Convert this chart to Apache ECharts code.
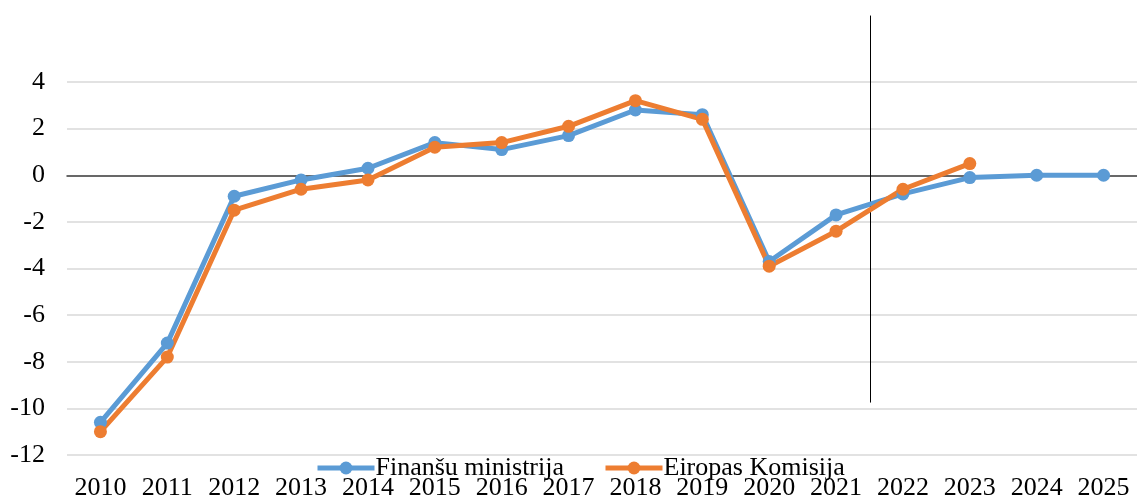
<!DOCTYPE html>
<html>
<head>
<meta charset="utf-8">
<script src="https://cdn.jsdelivr.net/npm/echarts@6/dist/echarts.min.js"></script>
<style>
  html, body { margin: 0; padding: 0; background: #fff; }
  #chart { width: 1137px; height: 501px; }
</style>
</head>
<body>
<div id="chart"></div>
<script>
// gadi
var years = ['2010', '2011', '2012', '2013', '2014', '2015', '2016', '2017',
             '2018', '2019', '2020', '2021', '2022', '2023', '2024', '2025'];
// Finanšu ministrija
var finMin = [-10.6, -7.2, -0.9, -0.2, 0.3, 1.4, 1.1, 1.7,
              2.8, 2.6, -3.7, -1.7, -0.8, -0.1, 0.0, 0.0];
// Eiropas Komisija
var eirKom = [-11.0, -7.8, -1.5, -0.6, -0.2, 1.2, 1.4, 2.1,
              3.2, 2.4, -3.9, -2.4, -0.6, 0.5, null, null];
// y ass
var yMin = -12, yMax = 4, yStep = 2;
// vertikālā atdalītāja līnija starp 2021 un 2022 (y vērtības)
var divFrom = '2021', divTo = '2022';
var divBottom = -9.75, divTop = 6.85;

var font = 'Liberation Serif, Times New Roman, serif';

var chart = echarts.init(document.getElementById('chart'));

var option = {
    animation: false,
    backgroundColor: '#fff',
    grid: {
        left: 67,
        right: 0,
        top: 82,
        bottom: 45
    },
    legend: {
        left: 310,
        top: 450,
        itemWidth: 57,
        itemHeight: 16,
        itemGap: 39,
        lineStyle: {width: 5},
        textStyle: {
            fontFamily: font,
            fontSize: 26,
            color: '#000',
            padding: [0, 0, 0, -4]
        },
        data: ['Finanšu ministrija', 'Eiropas Komisija']
    },
    xAxis: [{
        type: 'category',
        data: years,
        position: 'bottom',
        boundaryGap: true,
        axisLine: {show: false, onZero: false},
        axisTick: {show: false},
        axisLabel: {
            fontFamily: font,
            fontSize: 26,
            color: '#000',
            margin: 20,
            interval: 0
        }
    }, {
        // nulles līnija
        type: 'category',
        data: years,
        position: 'top',
        boundaryGap: true,
        axisLine: {show: true, onZero: true, lineStyle: {color: '#404040', width: 1.5}},
        axisTick: {show: false},
        axisLabel: {show: false}
    }],
    yAxis: {
        type: 'value',
        min: yMin,
        max: yMax,
        interval: yStep,
        axisLine: {show: false},
        axisTick: {show: false},
        axisLabel: {
            fontFamily: font,
            fontSize: 26,
            color: '#000',
            margin: 22
        },
        splitLine: {
            lineStyle: {color: '#d9d9d9', width: 1.5}
        }
    },
    series: [{
        name: 'Finanšu ministrija',
        type: 'line',
        data: finMin,
        symbol: 'circle',
        symbolSize: 13,
        lineStyle: {color: '#5b9bd5', width: 5},
        itemStyle: {color: '#5b9bd5'}
    }, {
        name: 'Eiropas Komisija',
        type: 'line',
        data: eirKom,
        symbol: 'circle',
        symbolSize: 13,
        lineStyle: {color: '#ed7d31', width: 5},
        itemStyle: {color: '#ed7d31'}
    }]
};

chart.setOption(option);

// vertikālā līnija caur asu skalām
var xa = chart.convertToPixel({xAxisIndex: 0}, divFrom);
var xb = chart.convertToPixel({xAxisIndex: 0}, divTo);
var divX = Math.round((xa + xb) / 2) + 0.5;
var yb = chart.convertToPixel({yAxisIndex: 0}, divBottom);
var yt = chart.convertToPixel({yAxisIndex: 0}, divTop);
chart.setOption({
    graphic: [{
        type: 'line',
        z: 1,
        shape: {x1: divX, y1: yb, x2: divX, y2: yt},
        style: {stroke: '#000', lineWidth: 1}
    }]
});
</script>
</body>
</html>
